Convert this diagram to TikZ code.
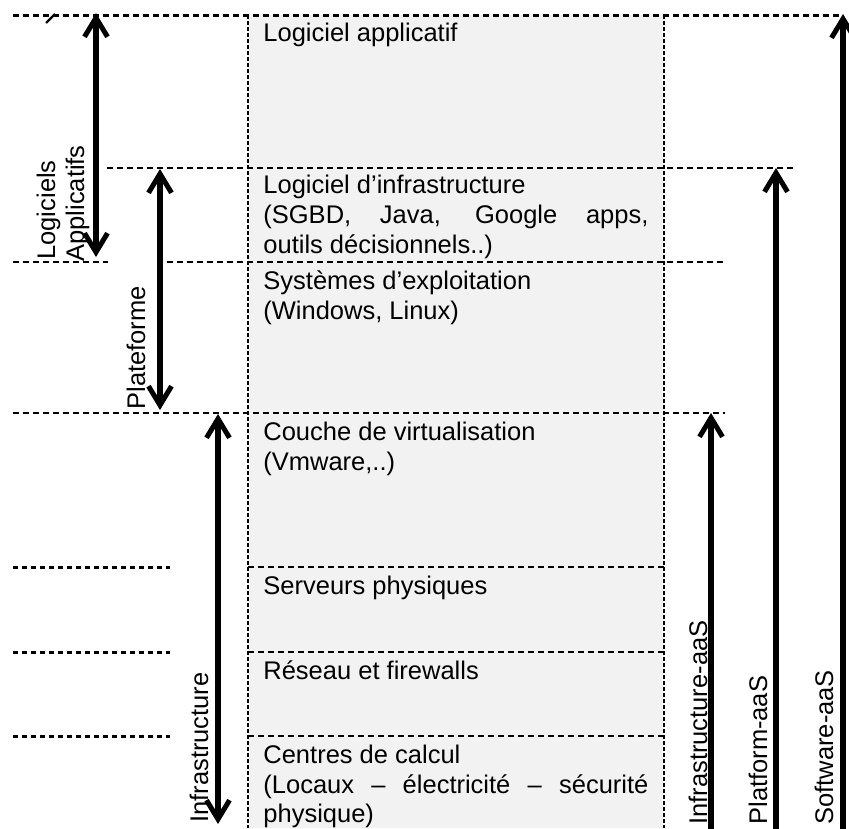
\documentclass[tikz,border=0pt]{standalone}
\usepackage{fontspec}
\setmainfont{Liberation Sans}
\usetikzlibrary{arrows.meta}
\definecolor{boxgray}{HTML}{F2F2F2}
\begin{document}
\begin{tikzpicture}[x=0.5pt,y=-0.5pt,
  txt/.style={anchor=base west, inner sep=0pt, font=\fontsize{12.75pt}{15pt}\selectfont},
  vlabel/.style={txt, rotate=90},
  hdash/.style={line width=1.2pt, dash pattern=on 3pt off 2pt},
  ldot/.style={line width=1.5pt, dash pattern=on 2.5pt off 2pt},
  vdot/.style={line width=1.3pt, dash pattern=on 1.8pt off 1.2pt},
  bigarrow/.style={line width=2.6pt, -{Straight Barb[length=9.5pt,width=11.5pt,line width=2.5pt]}},
  dblarrow/.style={line width=2.6pt, {Straight Barb[length=9.5pt,width=11.5pt,line width=2.5pt]}-{Straight Barb[length=9.5pt,width=11.5pt,line width=2.5pt]}}
]
\useasboundingbox (0,0) rectangle (849,828);

% gray column
\fill[boxgray] (248,15) rectangle (664,828);

% horizontal dashed lines
\draw[hdash] (13,15.5) -- (840,15.5);
\draw[hdash] (107,168) -- (795,168);
\draw[hdash] (13,262) -- (108,262);
\draw[hdash] (167,262) -- (725,262);
\draw[hdash] (13,413) -- (725,413);
\draw[hdash] (248,567) -- (664,567);
\draw[hdash] (248,652) -- (664,652);
\draw[hdash] (248,736) -- (664,736);

% short dotted lines on the left
\draw[ldot] (13,567) -- (170,567);
\draw[ldot] (13,652) -- (170,652);
\draw[ldot] (13,736) -- (170,736);

% vertical edges of the column
\draw[vdot] (248,15) -- (248,828);
\draw[vdot] (664,15) -- (664,828);

% stray mark
\draw[line width=1.2pt] (46,23) -- (55,14);

% texts in the column
\node[txt] (t1) at (263,42) {Logiciel applicatif};
\node[txt] (t2a) at (263,194) {Logiciel d’infrastructure};
\node[txt] (t2b) at (263,224) {\makebox[192.5pt][s]{(SGBD, Java, Google apps,}};
\node[txt] (t2c) at (263,254) {outils décisionnels..)};
\node[txt] (t3a) at (263,289) {Systèmes d’exploitation};
\node[txt] (t3b) at (263,319) {(Windows, Linux)};
\node[txt] (t4a) at (263,440) {Couche de virtualisation};
\node[txt] (t4b) at (263,470) {(Vmware,..)};
\node[txt] (t5) at (263,594) {Serveurs physiques};
\node[txt] (t6) at (263,679) {Réseau et firewalls};
\node[txt] (t7a) at (263,763) {Centres de calcul};
\node[txt] (t7b) at (263,793) {\makebox[192.5pt][s]{(Locaux – électricité – sécurité}};
\node[txt] (t7c) at (263,822) {physique)};

% rotated labels
\node[vlabel] (lLog) at (55,260) {Logiciels};
\node[vlabel] (lApp) at (84,262) {Applicatifs};
\node[vlabel] (lPla) at (145,410) {Plateforme};
\node[vlabel] (lInf) at (208,823) {Infrastructure};
\node[vlabel] (lIaaS) at (707,825) {Infrastructure-aaS};
\node[vlabel] (lPaaS) at (767,825) {Platform-aaS};
\node[vlabel] (lSaaS) at (833,825) {Software-aaS};

% arrow end points
\coordinate (aLogT) at (96,13);
\coordinate (aLogB) at (96,257);
\coordinate (aPlaT) at (160,169);
\coordinate (aPlaB) at (160,410);
\coordinate (aInfT) at (218,414);
\coordinate (aInfB) at (218,824);
\coordinate (aIaaSB) at (711,830);
\coordinate (aIaaST) at (711,413);
\coordinate (aPaaSB) at (776,830);
\coordinate (aPaaST) at (776,168);
\coordinate (aSaaSB) at (843,830);
\coordinate (aSaaST) at (843,14);

\draw[dblarrow] (aLogT) -- (aLogB);
\draw[dblarrow] (aPlaT) -- (aPlaB);
\draw[dblarrow] (aInfT) -- (aInfB);
\draw[bigarrow] (aIaaSB) -- (aIaaST);
\draw[bigarrow] (aPaaSB) -- (aPaaST);
\draw[bigarrow] (aSaaSB) -- (aSaaST);
\end{tikzpicture}
\end{document}
